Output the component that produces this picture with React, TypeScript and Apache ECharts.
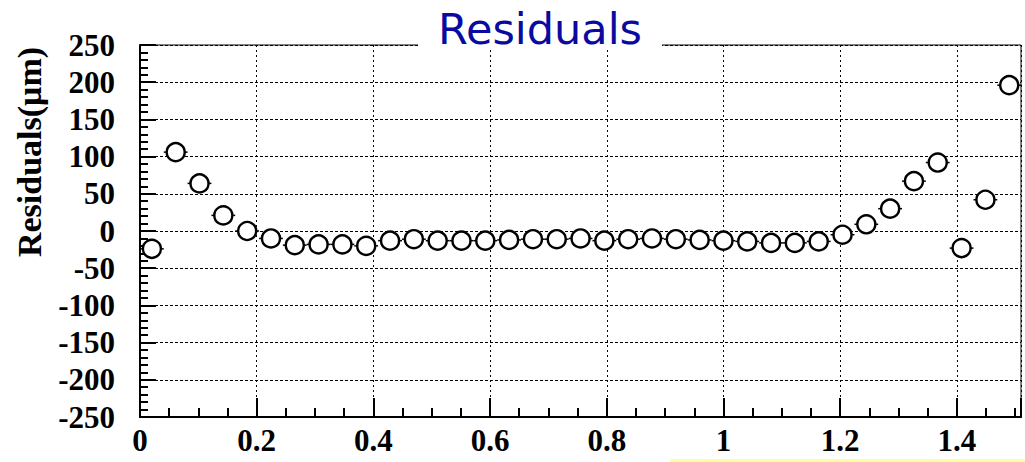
import React, { useEffect, useRef } from "react";
import * as echarts from "echarts";

const xCenters = [
  0.0204, 0.0612, 0.102, 0.1428, 0.1837, 0.2245, 0.2653, 0.3061, 0.3469, 0.3877,
  0.4286, 0.4694, 0.5102, 0.551, 0.5918, 0.6326, 0.6735, 0.7143, 0.7551, 0.7959,
  0.8367, 0.8775, 0.9184, 0.9592, 1.0, 1.0408, 1.0816, 1.1224, 1.1633, 1.2041,
  1.2449, 1.2857, 1.3265, 1.3673, 1.4082, 1.449, 1.4898,
];
const residuals = [
  -24, 106, 64, 21, 0, -10, -19, -18, -18, -20,
  -13, -11, -13, -13, -13, -12, -11, -11, -10, -13,
  -11, -10, -11, -12, -13, -14, -16, -16, -14, -5,
  9, 30, 67, 92, -23, 42, 196,
];
const xHalfWidth = 0.0204;
const yError = 12;
const xMajorTicks = [0, 0.2, 0.4, 0.6, 0.8, 1, 1.2, 1.4];
const yTicks = [-250, -200, -150, -100, -50, 0, 50, 100, 150, 200, 250];

const serif = "'Liberation Serif', 'Times New Roman', serif";

export default function App() {
  const ref = useRef<HTMLDivElement>(null);
  useEffect(() => {
    if (!ref.current) return;
    const chart = echarts.init(ref.current, null, { renderer: "svg" });
    const points = xCenters.map((x, i) => [x, residuals[i]]);
    const errData = xCenters.map((x, i) => [x, residuals[i], xHalfWidth, yError]);
    const xMin = 0;
    const xMax = 1.51;
    chart.setOption({
      animation: false,
      backgroundColor: "#ffffff",
      title: {
        text: "Residuals",
        left: 418,
        top: 7,
        padding: [0, 20, 0, 20],
        backgroundColor: "#ffffff",
        textStyle: {
          fontFamily: "'DejaVu Sans', sans-serif",
          fontSize: 43,
          fontWeight: "normal",
          color: "#0a0aa0",
        },
      },
      grid: {
        left: 140,
        right: 4,
        top: 45,
        bottom: 45,
        show: true,
        borderColor: "#000",
        borderWidth: 1,
        backgroundColor: "transparent",
      },
      xAxis: [
        {
          type: "value",
          min: xMin,
          max: xMax,
          interval: 0.2,
          position: "bottom",
          axisLine: { show: true, onZero: false, lineStyle: { color: "#000", width: 2 } },
          axisTick: { show: true, inside: true, length: 19, lineStyle: { color: "#000", width: 2 } },
          axisLabel: {
            color: "#000",
            fontFamily: serif,
            fontWeight: "bold",
            fontSize: 31,
            margin: 8,
            formatter: (v: number) => {
              const hit = xMajorTicks.find((t) => Math.abs(t - v) < 1e-6);
              return hit === undefined ? "" : String(hit);
            },
          },
          splitLine: { show: true, lineStyle: { color: "#000", width: 1, type: [2, 3] } },
        },
        {
          type: "value",
          min: xMin,
          max: xMax,
          interval: 0.05,
          position: "bottom",
          axisLine: { show: true, onZero: false, lineStyle: { color: "#000", width: 2 } },
          axisTick: { show: true, inside: true, length: 9, lineStyle: { color: "#000", width: 2 } },
          axisLabel: { show: false },
          splitLine: { show: false },
        },
      ],
      yAxis: {
        type: "value",
        min: yTicks[0],
        max: yTicks[yTicks.length - 1],
        interval: 50,
        axisLine: { show: true, onZero: false, lineStyle: { color: "#000", width: 2 } },
        axisTick: { show: true, inside: true, length: 16, lineStyle: { color: "#000", width: 2 } },
        minorTick: { show: true, splitNumber: 5, length: 8, lineStyle: { color: "#000", width: 2 } },
        axisLabel: {
          color: "#000",
          fontFamily: serif,
          fontWeight: "bold",
          fontSize: 31,
          margin: 25,
        },
        splitLine: { show: true, lineStyle: { color: "#000", width: 1, type: [3, 2] } },
      },
      graphic: [
        {
          type: "text",
          x: 29,
          y: 152,
          rotation: Math.PI / 2,
          style: {
            text: "Residuals(μm)",
            font: `bold 34px ${serif}`,
            fill: "#000",
            textAlign: "center",
            textVerticalAlign: "middle",
          },
        },
        {
          type: "rect",
          shape: { x: 670, y: 459, width: 355, height: 3 },
          style: { fill: "#ffff99" },
        },
      ],
      series: [
        {
          type: "custom",
          xAxisIndex: 0,
          z: 2,
          data: errData,
          renderItem: (params: any, api: any) => {
            const x = api.value(0);
            const y = api.value(1);
            const dx = api.value(2);
            const dy = api.value(3);
            const l = api.coord([x - dx, y]);
            const r = api.coord([x + dx, y]);
            const t = api.coord([x, y + dy]);
            const b = api.coord([x, y - dy]);
            return {
              type: "group",
              children: [
                { type: "line", shape: { x1: l[0], y1: l[1], x2: r[0], y2: r[1] }, style: { stroke: "#000", lineWidth: 1.5 } },
                { type: "line", shape: { x1: t[0], y1: t[1], x2: b[0], y2: b[1] }, style: { stroke: "#000", lineWidth: 1.5 } },
              ],
            };
          },
        },
        {
          type: "scatter",
          xAxisIndex: 0,
          z: 3,
          data: points,
          symbol: "circle",
          symbolSize: 18,
          itemStyle: { color: "#ffffff", borderColor: "#000", borderWidth: 2.4, opacity: 1 },
        },
      ],
    });
    return () => chart.dispose();
  }, []);
  return (
    <div
      ref={ref}
      style={{ position: "absolute", left: 0, top: 0, width: 1025, height: 462 }}
    />
  );
}
